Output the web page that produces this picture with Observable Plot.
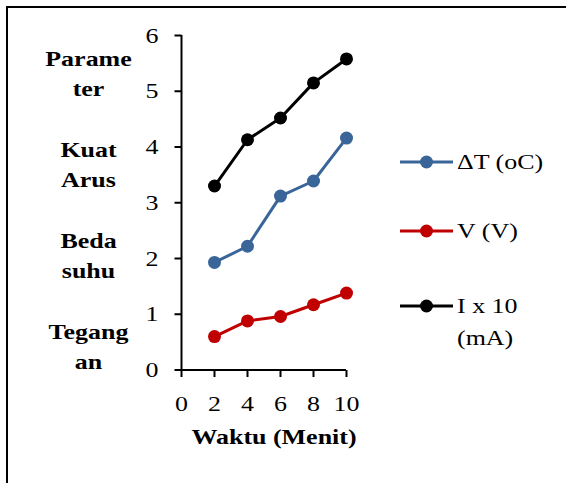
<!DOCTYPE html>
<html>
<head>
<meta charset="utf-8">
<script src="https://cdn.jsdelivr.net/npm/d3@7"></script>
<script src="https://cdn.jsdelivr.net/npm/@observablehq/plot@0.6"></script>
<style>
  body { margin: 0; background: #fff; }
  #chart { position: relative; width: 566px; height: 483px; overflow: hidden;
           font-family: "Liberation Serif", "Times New Roman", serif; color: #000; }
  #frame { position: absolute; left: 6px; top: 6px; right: -10px; bottom: -10px;
           border-top: 2px solid #000; border-left: 2px solid #000; pointer-events: none; }
  #plot { position: absolute; left: 0; top: 0; }
  #legend { position: absolute; left: 400px; top: 146px; display: flex; flex-direction: column;
            font-size: 22px; line-height: 32px; }
  .row { display: flex; align-items: flex-start; }
  .row svg { flex: none; display: block; }
  .row span { display: inline-block; margin-left: 4px; white-space: pre;
              transform: scaleX(1.18); transform-origin: left center; }
</style>
</head>
<body>
<div id="chart">
  <div id="plot"></div>
  <div id="legend"></div>
  <div id="frame"></div>
</div>
<script>
// Measurements over time (minutes)
const waktu = [2, 4, 6, 8, 10];
const deltaT = [1.93, 2.22, 3.12, 3.39, 4.16];   // temperature difference
const tegangan = [0.60, 0.88, 0.96, 1.17, 1.38]; // voltage
const arus = [3.30, 4.13, 4.52, 5.15, 5.58];     // current x 10

const seriesNames = ["ΔT (oC)", "V (V)", "I x 10\n(mA)"];
const seriesColors = ["#3A6599", "#C00000", "#000000"];
const xTicks = [0, 2, 4, 6, 8, 10];
const yTicks = [0, 1, 2, 3, 4, 5, 6];
const xTitle = "Waktu (Menit)";
const yTitle = "Parame\nter\n\nKuat\nArus\n\nBeda\nsuhu\n\nTegang\nan";

const rows = [deltaT, tegangan, arus].flatMap((vals, s) =>
  vals.map((v, i) => ({series: seriesNames[s], waktu: waktu[i], nilai: v})));

// Short outward tick strokes drawn as custom dot symbols
const TICK = 7;
const tickLeft = {draw(ctx) { ctx.moveTo(-TICK, 0); ctx.lineTo(0, 0); }};
const tickDown = {draw(ctx) { ctx.moveTo(0, 0); ctx.lineTo(0, TICK); }};

const plot = Plot.plot({
  width: 566,
  height: 483,
  marginLeft: 181,
  marginRight: 220,
  marginTop: 35,
  marginBottom: 113.5,
  style: {fontFamily: "'Liberation Serif', 'Times New Roman', serif", fontSize: "22px",
          color: "#000", background: "transparent", overflow: "visible"},
  x: {domain: [0, 10], ticks: xTicks},
  y: {domain: [0, 6], ticks: yTicks},
  color: {domain: seriesNames, range: seriesColors},
  marks: [
    Plot.axisY({ticks: yTicks, tickSize: 0, tickPadding: 23, tickFormat: d => String(d), label: null}),
    Plot.axisX({ticks: xTicks, tickSize: 0, tickPadding: 25, tickFormat: d => String(d), label: null}),
    Plot.dot(yTicks, {x: 0, y: d => d, symbol: tickLeft, fill: "none", stroke: "#000", strokeWidth: 2}),
    Plot.dot(xTicks, {x: d => d, y: 0, symbol: tickDown, fill: "none", stroke: "#000", strokeWidth: 2}),
    // axis lines
    Plot.ruleX([0], {strokeWidth: 2}),
    Plot.ruleY([0], {strokeWidth: 2}),
    Plot.line(rows, {x: "waktu", y: "nilai", stroke: "series", z: "series", strokeWidth: 3}),
    Plot.dot(rows, {x: "waktu", y: "nilai", fill: "series", r: 6.5}),
    Plot.text([xTitle], {text: d => d, frameAnchor: "bottom", dx: 10, dy: 74, fontWeight: "bold"}),
    Plot.text([yTitle], {text: d => d, frameAnchor: "left", dx: -93, dy: 5, textAnchor: "middle",
                         fontWeight: "bold", lineHeight: 1.38})
  ]
});

document.getElementById("plot").append(plot);

// Widen the serif glyphs a little so the type sits at its usual set width
plot.querySelectorAll("text").forEach(t => {
  const tspans = t.querySelectorAll("tspan");
  const parts = tspans.length ? [...tspans] : [t];
  parts.forEach(p => {
    const len = p.getComputedTextLength();
    if (len > 0) {
      p.setAttribute("textLength", len * 1.18);
      p.setAttribute("lengthAdjust", "spacingAndGlyphs");
    }
  });
});

// Legend: line-and-marker swatch followed by the series name
const legend = document.getElementById("legend");
const rowGaps = [0, 37, 43];
seriesNames.forEach((name, i) => {
  const row = document.createElement("div");
  row.className = "row";
  row.style.marginTop = rowGaps[i] + "px";
  row.innerHTML = `<svg width="53" height="32"><line x1="0" x2="53" y1="16" y2="16" stroke="${seriesColors[i]}" stroke-width="3"/><circle cx="26.5" cy="16" r="6.5" fill="${seriesColors[i]}"/></svg>`;
  const span = document.createElement("span");
  span.textContent = name;
  row.append(span);
  legend.append(row);
});
</script>
</body>
</html>
